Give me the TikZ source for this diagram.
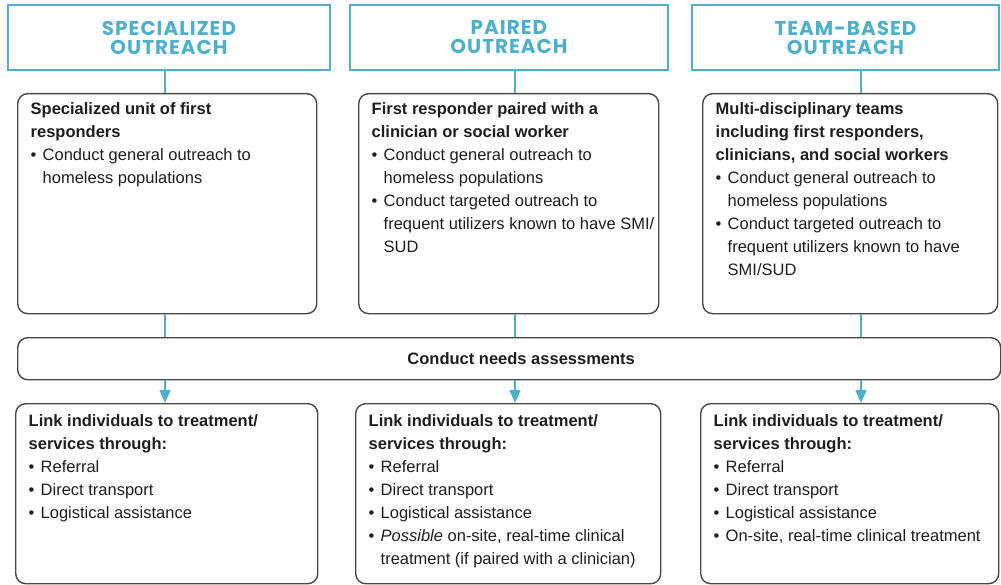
\documentclass[tikz,border=0pt]{standalone}
\usepackage{fontspec}
\setmainfont{Liberation Sans}
\newfontfamily\headfont{Poppins}[LetterSpace=5]
\usetikzlibrary{arrows.meta}
\definecolor{outteal}{RGB}{78,176,204}
\definecolor{boxgray}{RGB}{72,72,72}
\definecolor{inkgray}{RGB}{30,30,30}
\newcommand{\bul}[1]{\par\hangindent=12pt\hangafter=1\noindent\makebox[12pt][l]{\textbullet}#1}
\newcommand{\panel}[3]{\begin{minipage}[t][#2pt][t]{#1pt}\fontsize{16.5}{23}\selectfont\raggedright #3\end{minipage}}
\begin{document}
\begin{tikzpicture}[
          x=1pt, y=-1pt,
          header/.style={
            draw=outteal,
            line width=2.2pt,
            align=center,
            text=outteal,
            font=\headfont\bfseries\fontsize{20}{19}\selectfont,
            inner sep=0pt,
          },
          card/.style={
            draw=boxgray,
            line width=1.4pt,
            rounded corners=10pt,
            anchor=north west,
            text=inkgray,
            inner xsep=13pt,
            inner ysep=9pt,
          },
          link/.style={draw=outteal, line width=1.8pt},
          >={Triangle[length=13pt,width=11pt]},
        ]
        \useasboundingbox (0,0) rectangle (1001,585);
        \node[header, minimum width=322pt, minimum height=65pt] (hspec) at (169,37.5) {SPECIALIZED\\OUTREACH} ;
        \node[header, minimum width=318pt, minimum height=65pt] (hpair) at (509,37.5) {PAIRED\\OUTREACH} ;
        \node[header, minimum width=307pt, minimum height=65pt] (hteam) at (845.5,37.5) {TEAM-BASED\\OUTREACH} ;
        \node[card] (bspec) at (17,93) {\panel{273}{202}{\textbf{Specialized unit of first\\responders}
          \bul{Conduct general outreach to\newline homeless populations}}} ;
        \node[card] (bpair) at (358,93) {\panel{274}{202}{\textbf{First responder paired with a\\clinician or social worker}
          \bul{Conduct general outreach to\newline homeless populations}
          \bul{Conduct targeted outreach to\newline \mbox{frequent utilizers known to have SMI/}\newline SUD}}} ;
        \node[card] (bteam) at (702,93) {\panel{269}{202}{\textbf{Multi-disciplinary teams\\including first responders,\\clinicians, and social workers}
          \bul{Conduct general outreach to\newline homeless populations}
          \bul{Conduct targeted outreach to\newline frequent utilizers known to have\newline SMI/SUD}}} ;
        \node[card, minimum width=983pt, minimum height=42pt, inner sep=0pt, font=\bfseries\fontsize{16.5}{20}\selectfont] (needs) at (17,337) {\hspace*{24pt}Conduct needs assessments} ;
        \node[card, inner ysep=11pt] (lspec) at (15,403) {\panel{276}{158}{\textbf{Link individuals to treatment/\\services through:}
          \bul{Referral}\bul{Direct transport}\bul{Logistical assistance}}} ;
        \node[card, inner ysep=11pt] (lpair) at (355,403) {\panel{279}{158}{\textbf{Link individuals to treatment/\\services through:}
          \bul{Referral}\bul{Direct transport}\bul{Logistical assistance}
          \bul{\textit{Possible} on-site, real-time clinical\newline treatment (if paired with a clinician)}}} ;
        \node[card, inner ysep=11pt] (lteam) at (700,403) {\panel{272}{158}{\textbf{Link individuals to treatment/\\services through:}
          \bul{Referral}\bul{Direct transport}\bul{Logistical assistance}
          \bul{On-site, real-time clinical treatment}}} ;
        \coordinate (cspec) at (165,0) ;
        \coordinate (cpair) at (515,0) ;
        \coordinate (cteam) at (861,0) ;
        \draw[link] (hspec.south -| cspec) -- (bspec.north -| cspec) ;
        \draw[link] (hpair.south -| cpair) -- (bpair.north -| cpair) ;
        \draw[link] (hteam.south -| cteam) -- (bteam.north -| cteam) ;
        \draw[link] (bspec.south -| cspec) -- (needs.north -| cspec) ;
        \draw[link] (bpair.south -| cpair) -- (needs.north -| cpair) ;
        \draw[link] (bteam.south -| cteam) -- (needs.north -| cteam) ;
        \draw[link,->] (needs.south -| cspec) -- (lspec.north -| cspec) ;
        \draw[link,->] (needs.south -| cpair) -- (lpair.north -| cpair) ;
        \draw[link,->] (needs.south -| cteam) -- (lteam.north -| cteam) ;
        \end{tikzpicture}
\end{document}
